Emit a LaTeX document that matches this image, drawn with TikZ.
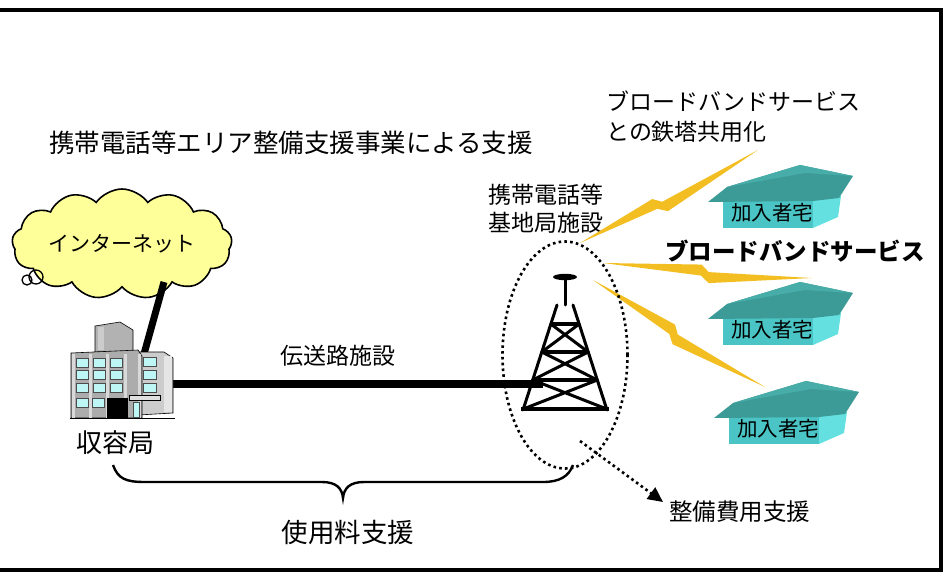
\documentclass[tikz,border=0pt]{standalone}
\usepackage{fontspec}
\setmainfont{Noto Sans CJK JP}
\usetikzlibrary{shapes.symbols,shapes.geometric,calc,arrows.meta}

\definecolor{boltc}{RGB}{242,190,34}
\definecolor{cloudc}{RGB}{255,255,153}
\definecolor{roofc}{RGB}{60,155,150}
\definecolor{roofhi}{RGB}{72,172,168}
\definecolor{frontc}{RGB}{74,196,196}
\definecolor{sidec}{RGB}{100,224,224}
\definecolor{winc}{RGB}{190,245,245}

% lightning bolt from #1 to #2, kinked at fraction #3
\newcommand\zapbolt[3]{%
  \path ($(#1)!#3!(#2)$) coordinate (zk1)
        ($(zk1)!5.5pt!90:(#2)$) coordinate (zu1)
        ($(zk1)!5.5pt!-90:(#2)$) coordinate (zl1)
        ($(zk1)!8pt!(#2)$) coordinate (zm)
        ($(zm)!7pt!-90:(#2)$) coordinate (zk2)
        ($(zk2)!5.5pt!90:(#2)$) coordinate (zu2)
        ($(zk2)!5.5pt!-90:(#2)$) coordinate (zl2);
  \fill[boltc] (#1) -- (zu1) -- (zu2) -- (#2) -- (zl2) -- (zl1) -- cycle;
}

% subscriber house, top-left corner at (#1,#2), node name #3
\newcommand\subhouse[3]{%
  \begin{scope}[shift={(#1,#2)}]
    \fill[sidec] (108,35) -- (136,31) -- (133,52) -- (108,63) -- cycle;
    \fill[frontc] (18,35) rectangle (108,63);
    \fill[roofc] (3,37) -- (22,22) -- (95,0) -- (148,11) -- (134,33) -- (108,36) -- cycle;
    \fill[roofhi] (22,22) -- (95,0) -- (148,11) -- (100,8) -- cycle;
    \node[txt=20.5] (#3) at (67,48) {加入者宅};
  \end{scope}
}

\begin{document}
\begin{tikzpicture}[x=1pt,y=-1pt,
  txt/.style={inner sep=0pt, font=\fontsize{#1}{#1}\selectfont},
  txt/.default=23,
  dotline/.style={line width=2.6pt, dash pattern=on 2.6pt off 3.2pt},
  heavy/.style={line width=#1, line cap=butt},
  heavy/.default=8pt,
  truss/.style={line width=3pt, line cap=round},
]
\useasboundingbox (0,0) rectangle (945,573);
\clip (0,0) rectangle (945,573);

% frame
\draw[line width=4pt] (-10,10) -- (941,10) -- (941,570) -- (-10,570);

% headings
\node[txt=25.5, anchor=west] (title) at (49,143) {携帯電話等エリア整備支援事業による支援};
\node[txt=23, anchor=west, align=left, font=\fontsize{23}{30}\selectfont] (share) at (606,117)
  {ブロードバンドサービス\\との鉄塔共用化};
\node[txt=23, anchor=west, align=left, font=\fontsize{23}{28}\selectfont] (base) at (488,209)
  {携帯電話等\\基地局施設};

% internet cloud
\node[cloud, draw, fill=cloudc, line width=1.6pt, cloud puffs=13, cloud puff arc=110,
      aspect=2.4, minimum width=220pt, minimum height=90pt, inner sep=0pt,
      txt=21] (net) at (122,244) {インターネット};
\draw[line width=1.3pt] (27,280) circle (5) (36,277) circle (7);

% links
\coordinate (netfoot) at (164,282);
\coordinate (bldgroof) at (144,354);
\coordinate (bldgside) at (170,384);
\coordinate (twrfeed) at (543,384);
\draw[heavy=7pt] (netfoot) -- (bldgroof);
\draw[heavy=8.5pt] (bldgside) -- (twrfeed);
\node[txt=23] (line) at (338,356) {伝送路施設};

% exchange building
\begin{scope}[line width=0.6pt]
  \filldraw[fill=gray!60, draw=black] (95,326) -- (120,322) -- (133,330) -- (133,352) -- (95,352) -- cycle;
  \fill[gray!40] (98,327) rectangle (104,350);
  \filldraw[fill=gray!40, draw=black] (138,352) -- (164,352) -- (173,358) -- (173,413) -- (138,415) -- cycle;
  \fill[gray!20] (164,356) rectangle (172,412);
  \filldraw[fill=gray!65, draw=black] (71,353) -- (138,350) -- (142,356) -- (142,418) -- (71,418) -- cycle;
  \foreach \xa in {72,89,106,124,138}
    \fill[gray!30] (\xa,354) rectangle ++(3,64);
  \foreach \xa in {76,93,110}
    \foreach \ya in {358,370,383}
      \filldraw[fill=winc, draw=black!70] (\xa,\ya) rectangle ++(12,9);
  \foreach \xa in {76,92}
    \filldraw[fill=winc, draw=black!70] (\xa,398) rectangle ++(12,9);
  \fill[black] (107,398) rectangle (128,418);
  \foreach \ya in {357,370,383}
    \filldraw[fill=winc, draw=black!70] (143,\ya) rectangle ++(13,9);
  \filldraw[fill=gray!25, draw=black] (129,395) rectangle (160,400);
  \filldraw[fill=winc, draw=black!70] (133,402) rectangle (139,417);
  \draw[black, line width=1pt] (70,418) -- (175,418);
\end{scope}
\coordinate (bldg) at (115,380);
\node[txt=26] (bldglabel) at (115,443) {収容局};

% lightning links to subscribers
\coordinate (b1s) at (580,243); \coordinate (b1e) at (758,150);
\coordinate (b2s) at (603,263); \coordinate (b2e) at (812,278);
\coordinate (b3s) at (593,280); \coordinate (b3e) at (765,387);
\zapbolt{b1s}{b1e}{0.42}
\zapbolt{b2s}{b2e}{0.47}
\zapbolt{b3s}{b3e}{0.46}

% houses
\subhouse{705}{165}{h1}
\subhouse{705}{282}{h2}
\subhouse{711}{381}{h3}
\node[txt=23.5, font=\fontsize{23.5}{23.5}\selectfont\bfseries] (bb) at (795,251) {ブロードバンドサービス};

% tower
\fill (565,277) ellipse [x radius=12, y radius=3.2];
\draw[truss] (565,279) -- (565,305);
\draw[truss] (557,305) -- (523,410) (573,305) -- (607,410);
\draw[line width=4pt] (550.8,324) -- (579.2,324) (541.8,352) -- (588.2,352)
  (532.7,380) -- (597.3,380) (521,409) -- (609,409);
\draw[truss] (550.8,324) -- (588.2,352) (579.2,324) -- (541.8,352)
  (541.8,352) -- (597.3,380) (588.2,352) -- (532.7,380)
  (532.7,380) -- (606.7,409) (597.3,380) -- (523.3,409);

% base station site
\node[ellipse, draw, dotline, minimum width=125pt, minimum height=227pt, inner sep=0pt] (site) at (565,355) {};

% cost support arrow
\coordinate (arrowstart) at (580,441);
\node[txt=23.5, anchor=west] (cost) at (669,512) {整備費用支援};
\draw[dotline, -{Triangle[length=15pt,width=14pt]}] (arrowstart) -- (663,502);

% usage fee brace
\coordinate (bl) at (113,465);
\coordinate (br) at (573,465);
\draw[line width=2.4pt] (bl) .. controls (118,479) and (126,482) .. (145,482) -- (322,482)
  .. controls (336,482) and (342,488) .. (343,498)
  .. controls (344,488) and (350,482) .. (364,482) -- (543,482)
  .. controls (560,482) and (569,476) .. (br);
\node[txt=26.5] (fee) at (348,532) {使用料支援};
\end{tikzpicture}
\end{document}
